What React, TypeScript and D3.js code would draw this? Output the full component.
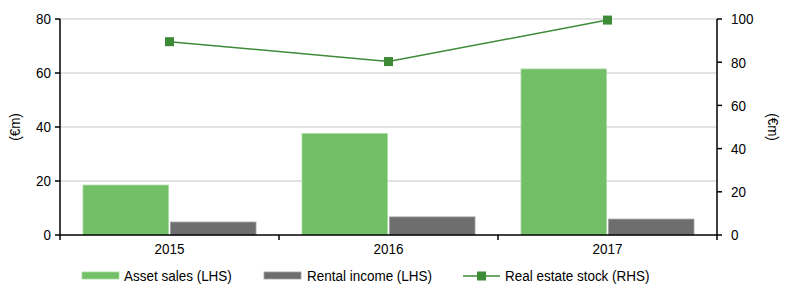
import React from "react";
import * as d3 from "d3";

const categories = ["2015", "2016", "2017"];
const assetSales = [18.5, 37.6, 61.5];
const rentalIncome = [4.8, 6.7, 5.9];
const realEstateStock = [89.5, 80.3, 99.5];
const leftTicks = [0, 20, 40, 60, 80];
const rightTicks = [0, 20, 40, 60, 80, 100];

const W = 800, H = 296;
const m = { left: 60, right: 83, top: 19, bottom: 61 };
const font = "'Liberation Sans', Arial, sans-serif";
const FS = 15.5;
const SX = 0.87;
const GREEN = "#72bf67";
const GREY = "#6e6e6e";
const LINE = "#3d8b37";

function T({ x, y, anchor = "start", rot = 0, children }: { x: number; y: number; anchor?: string; rot?: number; children: React.ReactNode }) {
  return (
    <text transform={`translate(${x},${y}) rotate(${rot}) scale(${SX},1)`} dy="0.35em" textAnchor={anchor} fontSize={FS} fill="#000">
      {children}
    </text>
  );
}

export default function App() {
  const x0 = d3.scaleBand().domain(categories).range([m.left, W - m.right]).paddingInner(0).paddingOuter(0);
  const x1 = d3.scaleBand().domain(["a", "r"]).range([23, x0.bandwidth() - 23]).paddingInner(0.023).paddingOuter(0);
  const yL = d3.scaleLinear().domain([0, 80]).range([H - m.bottom, m.top]);
  const yR = d3.scaleLinear().domain([0, 100]).range([H - m.bottom, m.top]);
  const x0s = W - m.right;
  const yBase = H - m.bottom;
  const line = d3.line<number>().x((_, i) => x0(categories[i])! + x0.bandwidth() / 2).y((d) => yR(d));
  const lg = 276;
  return (
    <svg width={W} height={H} style={{ position: "absolute", left: 0, top: 0 }} fontFamily={font}>
      <rect width={W} height={H} fill="#fff" />
      {leftTicks.filter((t) => t > 0).map((t) => (
        <line key={t} x1={m.left} x2={x0s} y1={yL(t)} y2={yL(t)} stroke="#d9d9d9" strokeWidth={1.5} />
      ))}
      {categories.map((c, i) => (
        <g key={c}>
          <rect x={x0(c)! + x1("a")!} y={yL(assetSales[i])} width={x1.bandwidth()} height={yBase - yL(assetSales[i])} fill={GREEN} stroke="#a9dba2" strokeWidth={0.8} />
          <rect x={x0(c)! + x1("r")!} y={yL(rentalIncome[i])} width={x1.bandwidth()} height={yBase - yL(rentalIncome[i])} fill={GREY} stroke="#a0a0a0" strokeWidth={0.8} />
        </g>
      ))}
      <path d={line(realEstateStock)!} fill="none" stroke={LINE} strokeWidth={1.5} />
      {realEstateStock.map((v, i) => (
        <rect key={i} x={x0(categories[i])! + x0.bandwidth() / 2 - 4.5} y={yR(v) - 4.5} width={9} height={9} fill={LINE} />
      ))}
      <line x1={m.left} x2={m.left} y1={m.top} y2={yBase} stroke="#000" strokeWidth={1.5} />
      <line x1={x0s} x2={x0s} y1={m.top} y2={yBase} stroke="#000" strokeWidth={1.5} />
      <line x1={m.left} x2={x0s} y1={yBase} y2={yBase} stroke="#000" strokeWidth={1.5} />
      {leftTicks.map((t) => (
        <g key={t}>
          <line x1={m.left - 5} x2={m.left} y1={yL(t)} y2={yL(t)} stroke="#000" strokeWidth={1.5} />
          <T x={m.left - 9} y={yL(t)} anchor="end">{t}</T>
        </g>
      ))}
      {rightTicks.map((t) => (
        <g key={t}>
          <line x1={x0s} x2={x0s + 5} y1={yR(t)} y2={yR(t)} stroke="#000" strokeWidth={1.5} />
          <T x={x0s + 14} y={yR(t)}>{t}</T>
        </g>
      ))}
      {[m.left, ...categories.slice(1).map((c) => x0(c)!), x0s].map((xx, i) => (
        <line key={i} x1={xx} x2={xx} y1={yBase} y2={yBase + 5} stroke="#000" strokeWidth={1.5} />
      ))}
      {categories.map((c) => (
        <T key={c} x={x0(c)! + x0.bandwidth() / 2} y={yBase + 14} anchor="middle">{c}</T>
      ))}
      <T x={15} y={(m.top + yBase) / 2} anchor="middle" rot={-90}>(€m)</T>
      <T x={773} y={(m.top + yBase) / 2} anchor="middle" rot={90}>(€m)</T>
      <rect x={82} y={lg - 4} width={37} height={7} fill={GREEN} stroke="#a9dba2" strokeWidth={0.8} />
      <T x={124} y={lg}>Asset sales (LHS)</T>
      <rect x={264} y={lg - 4} width={37} height={7} fill={GREY} stroke="#a0a0a0" strokeWidth={0.8} />
      <T x={307} y={lg}>Rental income (LHS)</T>
      <line x1={463} x2={500} y1={lg} y2={lg} stroke={LINE} strokeWidth={1.5} />
      <rect x={477} y={lg - 4.5} width={9} height={9} fill={LINE} />
      <T x={505} y={lg}>Real estate stock (RHS)</T>
    </svg>
  );
}
